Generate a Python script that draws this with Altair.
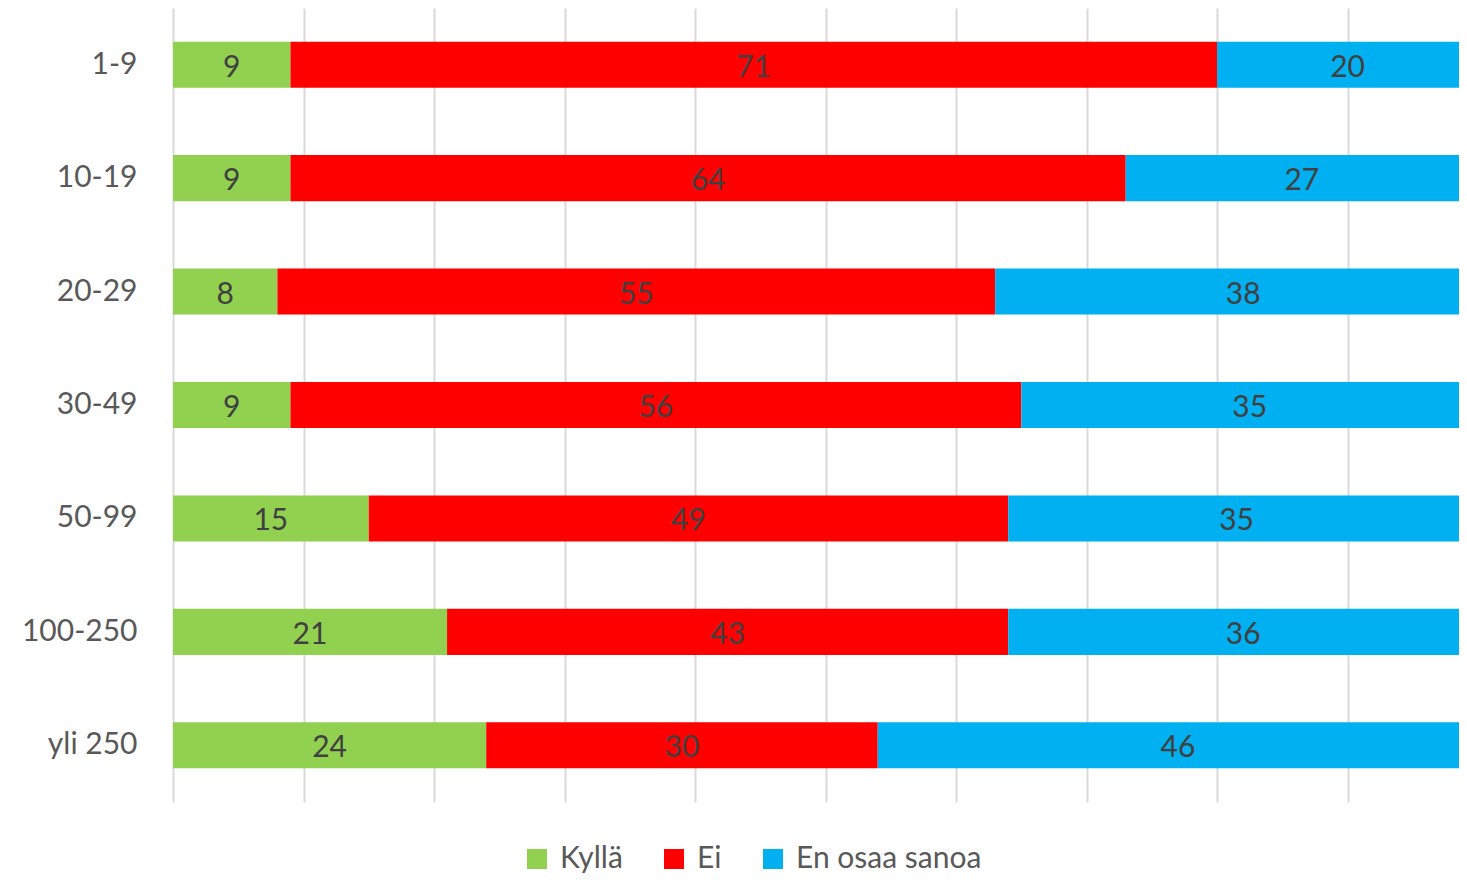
import altair as alt
import pandas as pd

groups = ["1-9", "10-19", "20-29", "30-49", "50-99", "100-250", "yli 250"]
kylla = [9, 9, 8, 9, 15, 21, 24]
ei = [71, 64, 55, 56, 49, 43, 30]
eos = [20, 27, 38, 35, 35, 36, 46]
series = ["Kyllä", "Ei", "En osaa sanoa"]
colors = ["#92D050", "#FF0000", "#00B0F0"]
ticks = [0, 10, 20, 30, 40, 50, 60, 70, 80, 90]

rows = []
for i, g in enumerate(groups):
    for j, (s, vals) in enumerate(zip(series, [kylla, ei, eos])):
        rows.append({"group": g, "series": s, "value": vals[i], "order": j})
df = pd.DataFrame(rows)

FONT = "Lato"
FS = 30

xscale = alt.Scale(domain=[0, 98.54], nice=False, zero=True)
yscale = alt.Scale(domain=groups, paddingInner=0.594, paddingOuter=0.297)

base = alt.Chart(df).transform_stack(
    stack="value", groupby=["group"], as_=["v0", "v1"],
    sort=[alt.SortField("order", order="ascending")]
).transform_calculate(mid="(datum.v0 + datum.v1) / 2")

bars = base.mark_bar(clip=True).encode(
    y=alt.Y("group:N", scale=yscale, sort=groups,
            axis=alt.Axis(title=None, ticks=False, domain=False, labelPadding=36,
                          labelFontSize=FS, labelColor="#595959", labelFont=FONT,
                          grid=False)),
    x=alt.X("v0:Q", scale=xscale,
            axis=alt.Axis(title=None, values=ticks, labels=False, ticks=False,
                          domain=False, grid=True, gridColor="#D9D9D9", gridWidth=2)),
    x2="v1:Q",
    color=alt.Color("series:N", scale=alt.Scale(domain=series, range=colors),
                    legend=alt.Legend(title=None, orient="none", legendX=349, legendY=836,
                                      direction="horizontal", symbolType="square",
                                      symbolSize=400, symbolStrokeWidth=0,
                                      labelFontSize=FS, labelFont=FONT, labelColor="#595959",
                                      labelLimit=0, labelOffset=8, columnPadding=36)),
)

labels = base.mark_text(fontSize=FS, font=FONT, color="#404040", baseline="middle", dy=3).encode(
    y=alt.Y("group:N", scale=yscale, sort=groups),
    x=alt.X("mid:Q", scale=xscale),
    text=alt.Text("value:Q"),
)

chart = alt.layer(bars, labels).properties(
    width=1286, height=794,
    background="white",
    autosize=alt.AutoSizeParams(type="none"),
    padding={"left": 165, "top": 0, "right": 0, "bottom": 72},
).configure_view(stroke=None)

chart.save("out.html", embed_options={"renderer": "svg", "actions": False})
